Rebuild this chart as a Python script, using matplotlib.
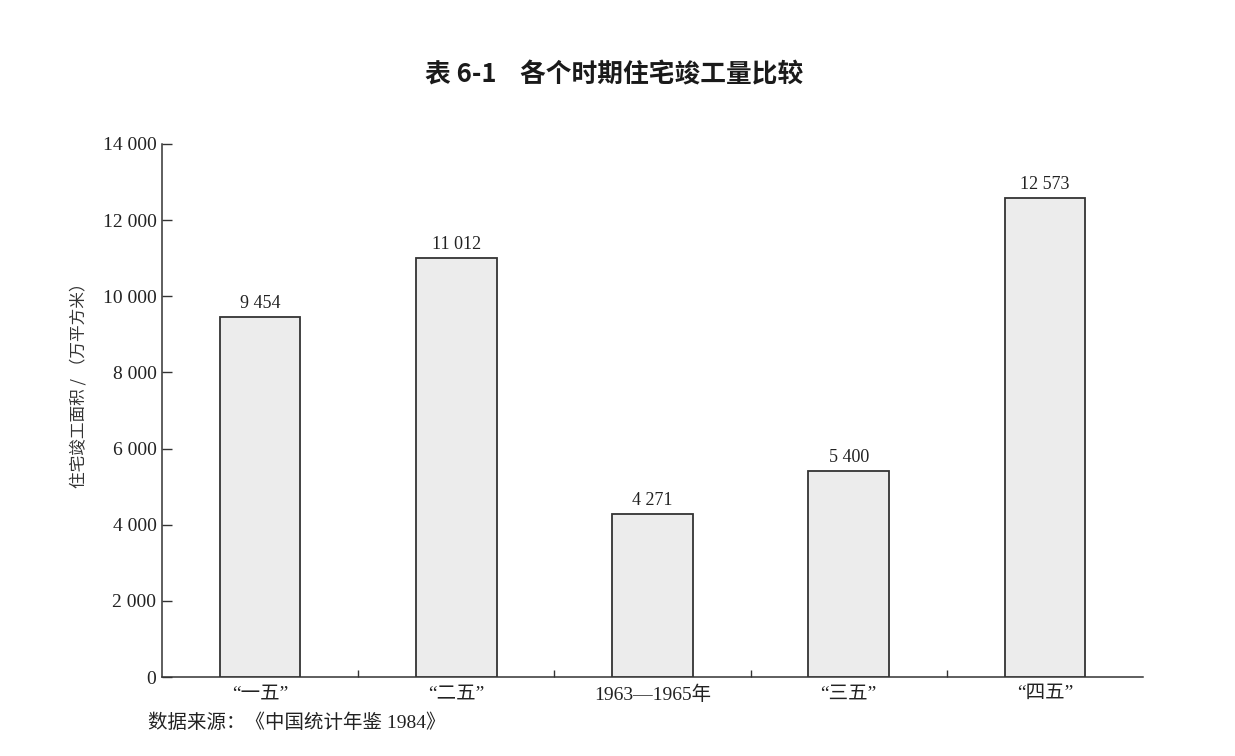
import numpy as np
import matplotlib.pyplot as plt
from matplotlib.ticker import FuncFormatter, FixedLocator

plt.rcParams['font.family'] = ['Liberation Serif', 'Noto Sans CJK SC']

# ── data ─────────────────────────────────────────────────────────────────────
periods = ["“一五”", "“二五”", "1963—1965年", "“三五”", "“四五”"]
areas = [9454, 11012, 4271, 5400, 12573]
y_ticks = [0, 2000, 4000, 6000, 8000, 10000, 12000, 14000]

fmt = lambda v, pos=None: f"{int(v):,}".replace(",", " ")

# ── figure ───────────────────────────────────────────────────────────────────
fig = plt.figure(figsize=(12.35, 7.56), dpi=100)
ax = fig.add_axes([162 / 1235, 1 - 677 / 756, (1143 - 162) / 1235, (677 - 144) / 756])

x = np.arange(len(periods))
ax.bar(x, areas, width=0.41, color="#ececec", edgecolor="#333333", linewidth=1.3, zorder=3)
for xi, v in zip(x, areas):
    ax.text(xi, v + 130, fmt(v), ha="center", va="bottom", fontsize=13, color="#222222")

ax.set_xlim(-0.5, len(periods) - 0.5)
ax.set_ylim(0, 14000)
ax.set_yticks(y_ticks)
ax.yaxis.set_major_formatter(FuncFormatter(fmt))
ax.set_xticks(x)
ax.set_xticklabels(periods, fontsize=14, color="#222222")
ax.xaxis.set_minor_locator(FixedLocator(x[:-1] + 0.5))
ax.tick_params(axis="x", which="major", length=0, pad=6)
ax.tick_params(axis="x", which="minor", direction="in", length=5, width=1, color="#333333")
ax.tick_params(axis="y", direction="in", length=7, width=1, labelsize=14,
               labelcolor="#222222", color="#333333", pad=4)

for s in ["top", "right"]:
    ax.spines[s].set_visible(False)
for s in ["left", "bottom"]:
    ax.spines[s].set_color("#333333")
    ax.spines[s].set_linewidth(1.1)

ax.set_ylabel("住宅竣工面积 / （万平方米）", fontsize=12, color="#333333",
              family=["Noto Sans CJK SC", "DejaVu Sans"])
ax.yaxis.set_label_coords((88 - 162) / 981, (677 - 381) / 533)

fig.text(614 / 1235, 1 - 75 / 756, "表 6-1    各个时期住宅竣工量比较", ha="center", va="center",
         fontsize=18.5, fontweight="bold", family=["Noto Sans CJK SC", "DejaVu Sans"], color="#1a1a1a")
fig.text(148 / 1235, 1 - 723 / 756, "数据来源：《中国统计年鉴 1984》", ha="left", va="center",
         fontsize=14, color="#222222")

fig.savefig("out.png", dpi=100)
